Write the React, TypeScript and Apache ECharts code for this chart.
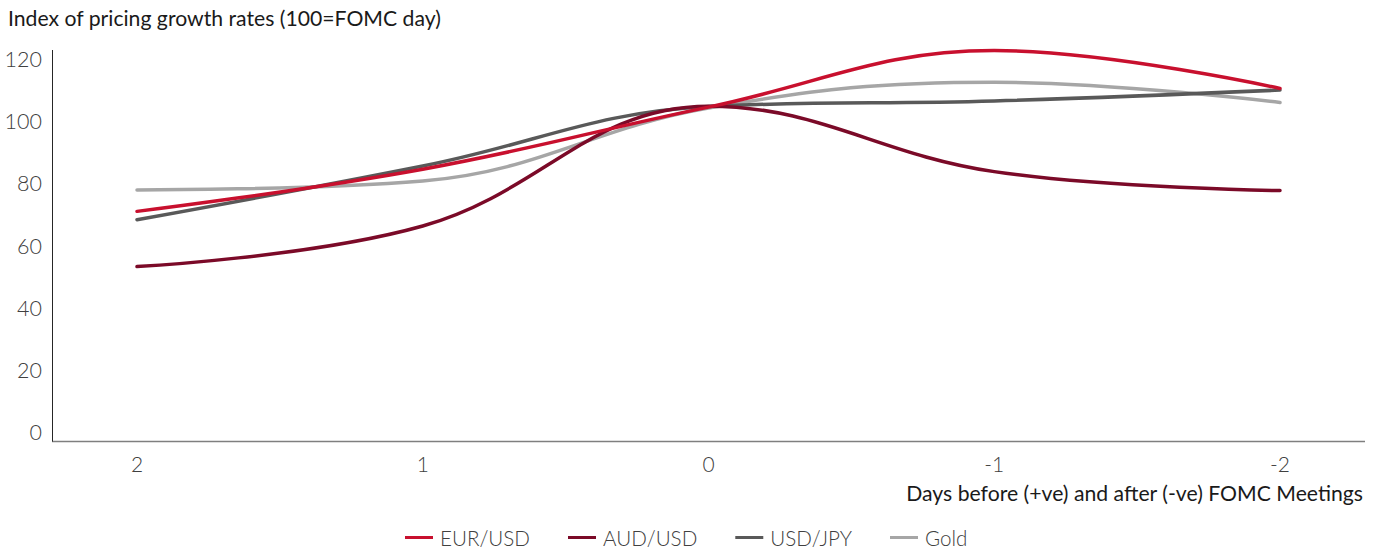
import React, { useEffect, useRef } from "react";
import * as echarts from "echarts";

const categories = ["2", "1", "0", "-1", "-2"];
const eurUsd = [71.0, 84.6, 104.6, 122.8, 110.6];
const audUsd = [53.2, 66.3, 104.9, 83.8, 77.7];
const usdJpy = [68.3, 85.6, 104.8, 106.6, 110.1];
const gold = [77.9, 80.8, 104.3, 112.6, 106.1];
const yTicks = [0, 20, 40, 60, 80, 100, 120];

const seriesNames = ["EUR/USD", "AUD/USD", "USD/JPY", "Gold"];
const seriesColors = ["#C8102E", "#7B0A28", "#595959", "#A6A6A6"];
const seriesData = [eurUsd, audUsd, usdJpy, gold];

export default function App() {
  const ref = useRef<HTMLDivElement>(null);
  useEffect(() => {
    if (!ref.current) return;
    const chart = echarts.init(ref.current, null, { renderer: "svg" });
    chart.setOption({
      animation: false,
      textStyle: { fontFamily: "Lato" },
      grid: { left: 137, right: 101, top: 59.3, bottom: 117.3 },
      title: {
        text: "Index of pricing growth rates (100=FOMC day)",
        left: 8,
        top: 6,
        padding: 0,
        textStyle: { fontFamily: "Lato", fontSize: 21.2, fontWeight: "normal", color: "#1a1a1a", lineHeight: 24 },
      },
      legend: {
        left: 405,
        top: 527,
        icon: "rect",
        itemWidth: 28,
        itemHeight: 3,
        itemGap: 38,
        padding: 0,
        textStyle: { fontFamily: "Lato", fontSize: 20.6, fontWeight: 300, color: "#404040", lineHeight: 20, padding: [0, 0, 0, 2] },
        data: seriesNames,
      },
      xAxis: {
        type: "category",
        data: categories,
        boundaryGap: false,
        axisLine: { show: false },
        axisTick: { show: false },
        splitLine: { show: false },
        axisLabel: { margin: 21, fontFamily: "Lato", fontSize: 21, fontWeight: 300, color: "#404040" },
      },
      yAxis: {
        type: "value",
        min: 0,
        max: 120,
        interval: 20,
        axisLine: { show: false },
        axisTick: { show: false },
        splitLine: { show: false },
        axisLabel: {
          margin: 95,
          fontFamily: "Lato",
          fontSize: 21.5,
          fontWeight: 300,
          color: "#404040",
          formatter: (v: number) => (yTicks.includes(v) ? String(v) : ""),
        },
      },
      graphic: [
        {
          type: "line",
          shape: { x1: 52, y1: 441.5, x2: 1365, y2: 441.5 },
          style: { stroke: "#7f7f7f", lineWidth: 1.5 },
          silent: true,
        },
        {
          type: "line",
          shape: { x1: 52.5, y1: 50, x2: 52.5, y2: 441.5 },
          style: { stroke: "#262626", lineWidth: 1 },
          silent: true,
        },
        {
          type: "text",
          x: 1363,
          y: 493,
          style: {
            text: "Days before (+ve) and after (-ve) FOMC Meetings",
            fontFamily: "Lato",
            fontSize: 21.2,
            fill: "#1a1a1a",
            align: "right",
            verticalAlign: "middle",
          },
          silent: true,
        },
      ],
      series: seriesNames.map((name, i) => ({
        name,
        type: "line",
        data: seriesData[i],
        smooth: 0.4,
        clip: false,
        showSymbol: false,
        symbol: "none",
        color: seriesColors[i],
        lineStyle: { width: 3.5, color: seriesColors[i], cap: "round" },
        z: 10 - i,
      })),
    });
    return () => chart.dispose();
  }, []);
  return <div ref={ref} style={{ width: 1381, height: 549, position: "absolute", left: 0, top: 0 }} />;
}
